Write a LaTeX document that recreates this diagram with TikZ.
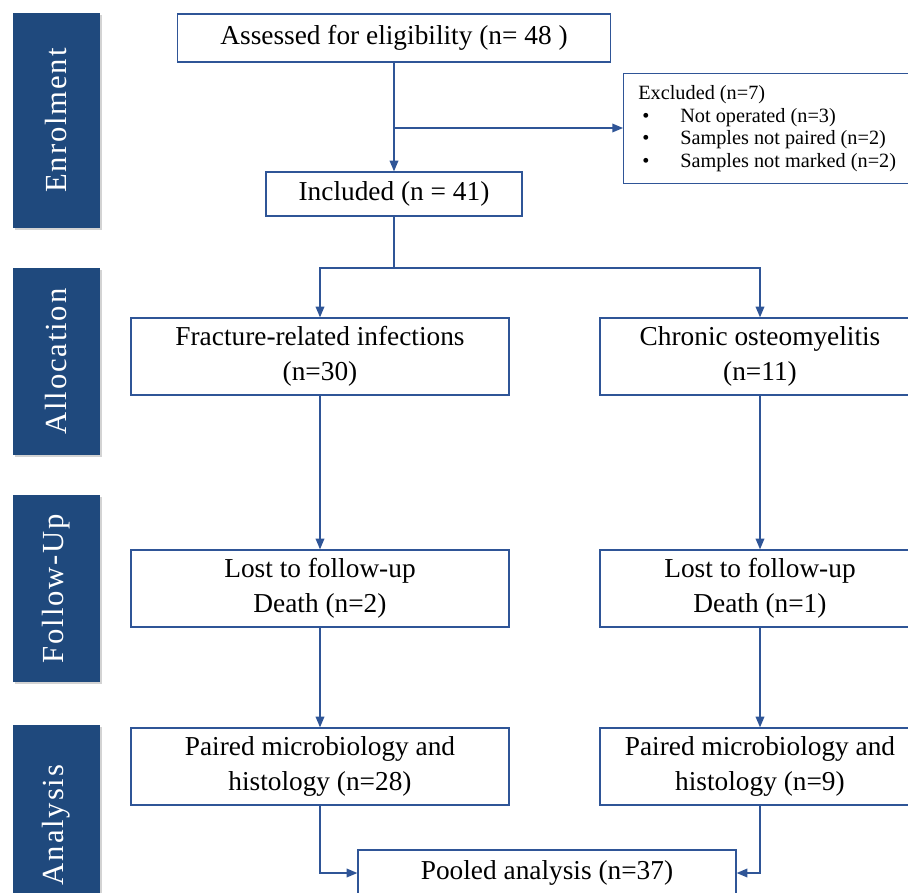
\documentclass[tikz,border=0pt]{standalone}
\usepackage{fontspec}
\setmainfont{Liberation Serif}
\usetikzlibrary{arrows.meta,shadows}

\definecolor{boxblue}{RGB}{47,85,151}
\definecolor{barblue}{RGB}{31,73,125}

\tikzset{every picture/.style={line width=0.75pt}}
\tikzset{
  flowbox/.style={draw=boxblue, line width=1pt, fill=white, align=center, inner sep=2pt,
    font=\fontsize{20.5}{26}\selectfont},
  stagebar/.style={fill=barblue, draw=none, text=white, rotate=90,
    font=\fontsize{23}{26}\selectfont\addfontfeature{LetterSpace=6},
    drop shadow={opacity=0.35, shadow xshift=1.2pt, shadow yshift=-1.5pt}},
  flowarrow/.style={draw=boxblue, line width=1pt, -{Triangle[length=8pt,width=6.5pt]}},
  flowline/.style={draw=boxblue, line width=1pt},
}

\begin{document}
\begin{tikzpicture}[x=0.75pt,y=0.75pt,yscale=-1,xscale=1]
  \useasboundingbox (0,0) rectangle (908,893);

  %Stage bars
  \node (enrol) [stagebar, minimum width=161.25pt, minimum height=65.25pt] at (56.5,120.5) {Enrolment};
  \node (alloc) [stagebar, minimum width=140.25pt, minimum height=65.25pt] at (56.5,361.5) {Allocation};
  \node (follow) [stagebar, minimum width=140.25pt, minimum height=65.25pt] at (56.5,588.5) {Follow-Up};
  \node (analys) [stagebar, minimum width=150pt, minimum height=65.25pt] at (56.5,825) {Analysis};

  % Text Node
  \node (assess) [flowbox, minimum width=324.75pt, minimum height=36pt] at (394,38) {Assessed for eligibility (n= 48 )};
  % Text Node
  \node (excl) [flowbox, anchor=north west, minimum width=208pt, minimum height=82.5pt, align=left,
    inner xsep=11pt, font=\fontsize{15.2}{17}\selectfont] at (623,73)
    {Excluded (n=7)\\
     \makebox[31.5pt][l]{\hspace{3pt}\textbullet}Not operated (n=3)\\
     \makebox[31.5pt][l]{\hspace{3pt}\textbullet}Samples not paired (n=2)\\
     \makebox[31.5pt][l]{\hspace{3pt}\textbullet}Samples not marked (n=2)};
  % Text Node
  \node (incl) [flowbox, minimum width=192pt, minimum height=33pt] at (394,194) {Included (n = 41)};

  % Text Node
  \node (fri) [flowbox, minimum width=283.5pt, minimum height=57.75pt] at (320,356.5) {Fracture-related infections\\(n=30)};
  \node (chr) [flowbox, minimum width=240pt, minimum height=57.75pt] at (760,356.5) {Chronic osteomyelitis\\(n=11)};
  % Text Node
  \node (lostl) [flowbox, minimum width=283.5pt, minimum height=57.75pt] at (320,588.5) {Lost to follow-up\\Death (n=2)};
  \node (lostr) [flowbox, minimum width=240pt, minimum height=57.75pt] at (760,588.5) {Lost to follow-up\\Death (n=1)};
  % Text Node
  \node (pairl) [flowbox, minimum width=283.5pt, minimum height=57.75pt] at (320,766.5) {Paired microbiology and\\histology (n=28)};
  \node (pairr) [flowbox, minimum width=240pt, minimum height=57.75pt] at (760,766.5) {Paired microbiology and\\histology (n=9)};
  % Text Node
  \node (pool) [flowbox, minimum width=283.5pt, minimum height=34.5pt] at (547,873) {Pooled analysis (n=37)};

  %Connectors
  \coordinate (split) at (394,128);
  \coordinate (fork) at (394,268);
  \draw [flowarrow] (assess) -- (incl);
  \draw [flowarrow] (split) -- (excl.west |- split);
  \draw [flowline] (incl) -- (fork);
  \draw [flowarrow] (fork) -| (fri);
  \draw [flowarrow] (fork) -| (chr);
  \draw [flowarrow] (fri) -- (lostl);
  \draw [flowarrow] (chr) -- (lostr);
  \draw [flowarrow] (lostl) -- (pairl);
  \draw [flowarrow] (lostr) -- (pairr);
  \draw [flowarrow] (pairl.south) |- (pool.west);
  \draw [flowarrow] (pairr.south) |- (pool.east);

\end{tikzpicture}
\end{document}
